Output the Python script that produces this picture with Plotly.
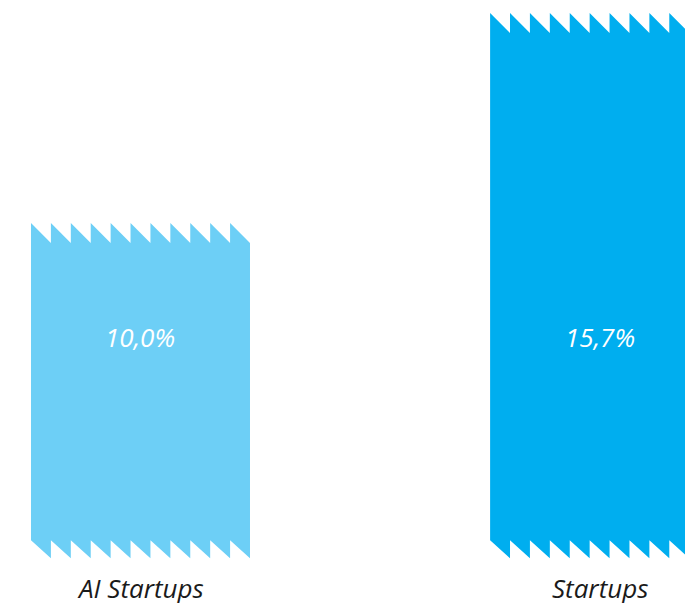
import plotly.graph_objects as go

categories = ["AI Startups", "Startups"]
values = [10.0, 15.7]
value_labels = ["10,0%", "15,7%"]
colors = ["#6dcff6", "#00aeef"]

# style / geometry constants
BASE = 0.9          # cut-off bottom of the torn bars
BAR_W = 0.477
N_TEETH = 11
TOOTH_TOP = 0.54
TOOTH_BOT = 0.49
LABEL_Y = 6.9
CAT_Y = 0.1
FONT = "Open Sans"

fig = go.Figure()

for i, (cat, v, lab, col) in enumerate(zip(categories, values, value_labels, colors)):
    xl, xr = i - BAR_W / 2, i + BAR_W / 2
    w = BAR_W / N_TEETH
    xs, ys = [xl], [v - TOOTH_TOP]
    # top sawtooth
    for k in range(N_TEETH):
        x0 = xl + k * w
        xs += [x0, x0 + w]
        ys += [v, v - TOOTH_TOP]
    # right edge down to the bottom
    xs.append(xr)
    ys.append(BASE)
    # bottom sawtooth going left
    for k in range(N_TEETH):
        x1 = xr - k * w
        xs += [x1 - w, x1 - w]
        ys += [BASE + TOOTH_BOT, BASE]
    xs[-1] = xl
    ys[-1] = BASE + TOOTH_BOT
    fig.add_trace(go.Scatter(x=xs, y=ys, fill="toself", fillcolor=col, mode="lines",
                             line=dict(width=0, color=col), hoverinfo="skip",
                             showlegend=False))
    fig.add_annotation(x=i, y=LABEL_Y, text="<i>" + lab + "</i>", showarrow=False,
                       font=dict(family=FONT, size=26, color="white"))
    fig.add_annotation(x=i, y=CAT_Y, text="<i>" + cat + "</i>", showarrow=False,
                       font=dict(family=FONT, size=26, color="#1a1a1a"))

fig.update_layout(
    width=685, height=603,
    margin=dict(l=0, r=0, t=0, b=0),
    plot_bgcolor="white", paper_bgcolor="white",
    xaxis=dict(range=[-0.306, 1.186], visible=False, fixedrange=True),
    yaxis=dict(range=[-0.315, 16.053], visible=False, fixedrange=True),
)

fig.write_html("out.html", config={"displayModeBar": False},
               post_script="document.body.style.margin='0';document.body.style.overflow='hidden';")
